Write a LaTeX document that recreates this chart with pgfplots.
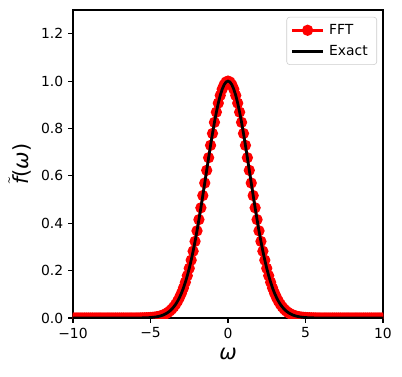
\documentclass[border=0pt]{standalone}
\usepackage{fontspec}
\setmainfont{DejaVu Sans}
\usepackage{pgfplots}
\usepackage{pgfplotstable}
\pgfplotsset{compat=1.18}
\pgfplotstableread[row sep=\\]{
x y\\
-10 0\\ -9.875 0\\ -9.75 0\\ -9.625 0\\ -9.5 0\\ -9.375 0\\ -9.25 0\\ -9.125 0\\
-9 0\\ -8.875 0\\ -8.75 0\\ -8.625 0\\ -8.5 0\\ -8.375 0\\ -8.25 0\\ -8.125 0\\
-8 0\\ -7.875 0\\ -7.75 0\\ -7.625 0\\ -7.5 0\\ -7.375 0\\ -7.25 0\\ -7.125 0\\
-7 0\\ -6.875 0\\ -6.75 0\\ -6.625 0\\ -6.5 0\\ -6.375 0\\ -6.25 0\\ -6.125 0\\
-6 0.00012\\ -5.875 0.00018\\ -5.75 0.00026\\ -5.625 0.00037\\ -5.5 0.00052\\
-5.375 0.00073\\ -5.25 0.00102\\ -5.125 0.00141\\ -5 0.00193\\ -4.875 0.00263\\
-4.75 0.00355\\ -4.625 0.00476\\ -4.5 0.00633\\ -4.375 0.00835\\ -4.25 0.01094\\
-4.125 0.01421\\ -4 0.01832\\ -3.875 0.02343\\ -3.75 0.02973\\ -3.625 0.03744\\
-3.5 0.04677\\ -3.375 0.05798\\ -3.25 0.07132\\ -3.125 0.08704\\ -3 0.10540\\
-2.875 0.12664\\ -2.75 0.15098\\ -2.625 0.17859\\ -2.5 0.20961\\ -2.375 0.24411\\
-2.25 0.28206\\ -2.125 0.32339\\ -2 0.36788\\ -1.875 0.41524\\ -1.75 0.46504\\
-1.625 0.51677\\ -1.5 0.56978\\ -1.375 0.62334\\ -1.25 0.67663\\ -1.125 0.72876\\
-1 0.77880\\ -0.875 0.82580\\ -0.75 0.86882\\ -0.625 0.90696\\ -0.5 0.93941\\
-0.375 0.96545\\ -0.25 0.98450\\ -0.125 0.99610\\ 0 1\\
0.125 0.99610\\ 0.25 0.98450\\ 0.375 0.96545\\ 0.5 0.93941\\ 0.625 0.90696\\
0.75 0.86882\\ 0.875 0.82580\\ 1 0.77880\\ 1.125 0.72876\\ 1.25 0.67663\\
1.375 0.62334\\ 1.5 0.56978\\ 1.625 0.51677\\ 1.75 0.46504\\ 1.875 0.41524\\
2 0.36788\\ 2.125 0.32339\\ 2.25 0.28206\\ 2.375 0.24411\\ 2.5 0.20961\\
2.625 0.17859\\ 2.75 0.15098\\ 2.875 0.12664\\ 3 0.10540\\ 3.125 0.08704\\
3.25 0.07132\\ 3.375 0.05798\\ 3.5 0.04677\\ 3.625 0.03744\\ 3.75 0.02973\\
3.875 0.02343\\ 4 0.01832\\ 4.125 0.01421\\ 4.25 0.01094\\ 4.375 0.00835\\
4.5 0.00633\\ 4.625 0.00476\\ 4.75 0.00355\\ 4.875 0.00263\\ 5 0.00193\\
5.125 0.00141\\ 5.25 0.00102\\ 5.375 0.00073\\ 5.5 0.00052\\ 5.625 0.00037\\
5.75 0.00026\\ 5.875 0.00018\\ 6 0.00012\\
6.125 0\\ 6.25 0\\ 6.375 0\\ 6.5 0\\ 6.625 0\\ 6.75 0\\ 6.875 0\\ 7 0\\
7.125 0\\ 7.25 0\\ 7.375 0\\ 7.5 0\\ 7.625 0\\ 7.75 0\\ 7.875 0\\ 8 0\\
8.125 0\\ 8.25 0\\ 8.375 0\\ 8.5 0\\ 8.625 0\\ 8.75 0\\ 8.875 0\\ 9 0\\
9.125 0\\ 9.25 0\\ 9.375 0\\ 9.5 0\\ 9.625 0\\ 9.75 0\\ 9.875 0\\ 10 0\\
}\fftdata
\begin{document}
\begin{tikzpicture}
\useasboundingbox (-52.56pt,-41.76pt) rectangle (236.88pt,228.96pt);
\begin{axis}[
  at={(0,0)}, anchor=south west,
  scale only axis, width=223.2pt, height=221.76pt,
  xmin=-10, xmax=10, ymin=0, ymax=1.3,
  xtick={-10,-5,0,5,10},
  xticklabels={−10,−5,0,5,10},
  ytick={0,0.2,0.4,0.6,0.8,1.0,1.2},
  yticklabels={0.0,0.2,0.4,0.6,0.8,1.0,1.2},
  tick align=outside, major tick length=3.5pt,
  tick style={line width=0.8pt, black},
  axis line style={line width=0.8pt},
  xtick pos=bottom, ytick pos=left,
  ticklabel style={font=\fontsize{10}{12}\selectfont},
  /pgf/number format/assume math mode=true,
  xlabel={\textit{ω}},
  ylabel={\ensuremath{\tilde{\textit{f}}}(\textit{ω})},
  label style={font=\fontsize{15}{18}\selectfont},
  clip marker paths=true,
  legend image code/.code={\draw[mark repeat=2,mark phase=2,#1] plot coordinates {(0pt,0pt) (11pt,0pt) (22pt,0pt)};},
  legend style={at={(rel axis cs:1,1)}, xshift=-4.3pt, yshift=-5pt, anchor=north east,
    draw=black!20, rounded corners=2pt, font=\fontsize{10}{12}\selectfont,
    inner xsep=3pt, inner ysep=3pt, row sep=2.5pt, cells={anchor=west},
    nodes={inner xsep=3.5pt}},
  legend cell align=left,
]
\addplot[red, line width=2pt, mark=*, mark size=3pt, mark options={fill=red, draw=red}] table[x=x,y=y]{\fftdata};
\addlegendentry{FFT}
\addplot[black, line width=2pt, no marks] table[x=x,y=y]{\fftdata};
\addlegendentry{Exact}
\end{axis}
\end{tikzpicture}
\end{document}
